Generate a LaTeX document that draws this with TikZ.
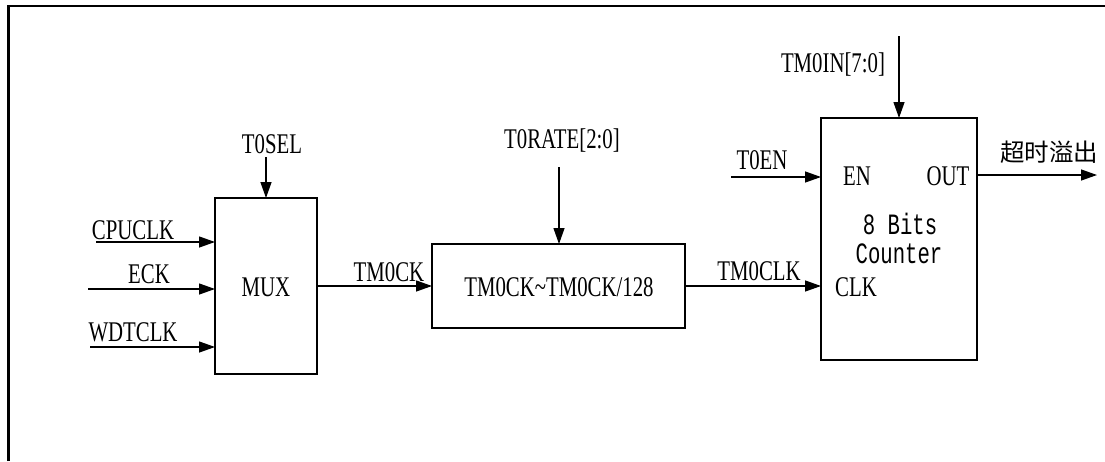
\documentclass[tikz,border=0pt]{standalone}
\usepackage{fontspec}
\usetikzlibrary{arrows.meta}
\newfontfamily\lab[FakeStretch=0.73]{Liberation Serif}
\newfontfamily\monolab[FakeStretch=0.7]{Liberation Mono}
\newfontfamily\cjk{Noto Sans CJK SC}
\tikzset{
  every node/.style={inner sep=0pt, outer sep=0pt},
  txt/.style={font=\lab\fontsize{28.5}{28.5}\selectfont},
  mtxt/.style={font=\monolab\fontsize{29.5}{29.5}\selectfont},
  blk/.style={draw, line width=1.3pt},
  arr/.style={-{Triangle[length=16pt,width=11pt]}, line width=1.3pt},
  frame/.style={line width=2.6pt},
}
\begin{document}
\begin{tikzpicture}[x=1pt,y=-1pt]
\useasboundingbox (0,0) rectangle (1105,461);
% frame
\coordinate (fbl) at (8.5,461);
\coordinate (ftl) at (8.5,6);
\coordinate (ftr) at (1105,6);
\draw[frame] (fbl) -- (ftl) -- (ftr);

% blocks
\node[blk, minimum width=102pt, minimum height=176pt] (mux) at (266,286) {};
\node[txt] at (266,287) {MUX};
\node[blk, minimum width=253pt, minimum height=84pt] (div) at (558.5,286) {};
\node[txt] at (559,287) {TM0CK\textasciitilde TM0CK/128};
\node[blk, minimum width=156pt, minimum height=242pt] (cnt) at (899,239) {};
\node[txt] (en) at (857,176) {EN};
\node[txt] (out) at (948,176) {OUT};
\node[mtxt] (bits) at (900,224) {8 Bits};
\node[mtxt] (counter) at (899,254) {Counter};
\node[txt] (clk) at (856,287) {CLK};

% MUX inputs
\coordinate (cpu) at (96,242);
\coordinate (eck) at (88,289);
\coordinate (wdt) at (90,347);
\coordinate (sel) at (266,157);
\draw[arr] (cpu) -- (cpu -| mux.west);
\draw[arr] (eck) -- (eck -| mux.west);
\draw[arr] (wdt) -- (wdt -| mux.west);
\draw[arr] (sel) -- (mux.north);
\node[txt] (lcpu) at (133,230) {CPUCLK};
\node[txt] (leck) at (149,274) {ECK};
\node[txt] (lwdt) at (133,332) {WDTCLK};
\node[txt] (lsel) at (272,144) {T0SEL};

% MUX -> divider
\draw[arr] (mux.east |- div.west) -- (div.west);
\node[txt] (ltmock) at (389,272) {TM0CK};
\coordinate (rate) at (559,167);
\draw[arr] (rate) -- (rate |- div.north);
\node[txt] (lrate) at (562,141) {T0RATE[2:0]};

% divider -> counter
\draw[arr] (div.east) -- (div.east -| cnt.west);
\node[txt] (ltmoclk) at (759,271) {TM0CLK};

% counter inputs / outputs
\coordinate (tin) at (899,36);
\draw[arr] (tin) -- (cnt.north);
\node[txt] (ltin) at (833,65) {TM0IN[7:0]};
\coordinate (ten) at (731,177);
\draw[arr] (ten) -- (ten -| cnt.west);
\node[txt] (lten) at (762,160) {T0EN};
\coordinate (ovf) at (1097,175);
\draw[arr] (ovf -| cnt.east) -- (ovf);
\node[font=\cjk\fontsize{24.5}{24.5}\selectfont] (lovf) at (1049,152) {超时溢出};
\end{tikzpicture}
\end{document}
